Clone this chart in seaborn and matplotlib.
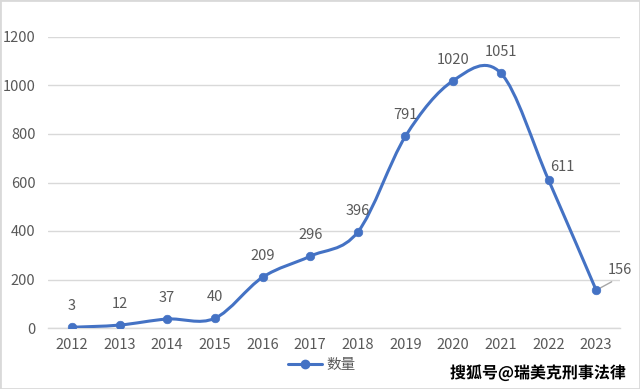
import numpy as np
import pandas as pd
import seaborn as sns
import matplotlib.pyplot as plt
from matplotlib.path import Path
from matplotlib.patches import PathPatch, Rectangle
from matplotlib.lines import Line2D
import matplotlib.patheffects as pe

# Data
years = ['2012', '2013', '2014', '2015', '2016', '2017',
         '2018', '2019', '2020', '2021', '2022', '2023']
counts = [3, 12, 37, 40, 209, 296, 396, 791, 1020, 1051, 611, 156]
series_name = '数量'
y_ticks = [0, 200, 400, 600, 800, 1000, 1200]

blue = '#4472C4'
grey_text = '#595959'
grid_col = '#D9D9D9'

sns.set_theme(style='white')
plt.rcParams['font.family'] = ['Noto Sans CJK SC', 'DejaVu Sans']

df = pd.DataFrame({'pos': np.arange(len(years)), 'count': counts})

fig = plt.figure(figsize=(6.4, 3.89), dpi=100)
ax = fig.add_axes([48 / 640, 1 - 328 / 389, 572 / 640, 291 / 389])

# Smoothed line like Excel's "smooth line" (cubic Bezier through the points)
pts = df[['pos', 'count']].to_numpy(dtype=float)
verts = [pts[0]]
codes = [Path.MOVETO]
n = len(pts)
for i in range(n - 1):
    p_prev = pts[i - 1] if i > 0 else pts[i]
    p_next2 = pts[i + 2] if i + 2 < n else pts[i + 1]
    c1 = pts[i] + (pts[i + 1] - p_prev) / 6
    c2 = pts[i + 1] - (p_next2 - pts[i]) / 6
    verts += [c1, c2, pts[i + 1]]
    codes += [Path.CURVE4] * 3
ax.add_patch(PathPatch(Path(verts, codes), facecolor='none', edgecolor=blue,
                       lw=2.2, capstyle='round', joinstyle='round', zorder=3))

sns.scatterplot(data=df, x='pos', y='count', color=blue, s=38,
                edgecolor=blue, zorder=4, ax=ax, legend=False)

# Data labels
for i, v in enumerate(counts):
    if i == len(counts) - 1:
        ax.annotate(str(v), xy=(i, v), xytext=(24, 20), textcoords='offset pixels',
                    ha='center', va='center', fontsize=10.5, color=grey_text,
                    arrowprops=dict(arrowstyle='-', color='#A6A6A6', lw=1,
                                    relpos=(0.5, 0), shrinkA=2, shrinkB=2))
    elif i == len(counts) - 2:
        ax.annotate(str(v), xy=(i, v), xytext=(14, 13), textcoords='offset pixels',
                    ha='center', va='center', fontsize=10.5, color=grey_text)
    else:
        ax.annotate(str(v), xy=(i, v), xytext=(0, 21), textcoords='offset pixels',
                    ha='center', va='center', fontsize=10.5, color=grey_text)

ax.set_xlim(-0.5, len(years) - 0.5)
ax.set_ylim(0, 1200)
ax.set_xticks(range(len(years)))
ax.set_xticklabels(years)
ax.set_yticks(y_ticks)
ax.set_xlabel('')
ax.set_ylabel('')
ax.tick_params(axis='both', length=0, labelsize=10.5, labelcolor=grey_text)
ax.tick_params(axis='y', pad=9)
ax.tick_params(axis='x', pad=7)
ax.yaxis.grid(True, color=grid_col, lw=1)
ax.set_axisbelow(True)
for side in ['left', 'right', 'top']:
    ax.spines[side].set_visible(False)
ax.spines['bottom'].set_color(grid_col)
ax.spines['bottom'].set_linewidth(1)

handle = Line2D([], [], color=blue, lw=2.2, marker='o', markersize=6)
fig.legend([handle], [series_name], loc='center', bbox_to_anchor=(322 / 640, 1 - 365 / 389),
           frameon=False, fontsize=10.5, handlelength=2.3, handletextpad=0.3,
           labelcolor=grey_text)

fig.text(626 / 640, 1 - 373 / 389, '搜狐号@瑞美克刑事法律', ha='right', va='center',
         fontsize=11.5, fontweight='bold', color='black',
         path_effects=[pe.withStroke(linewidth=2.5, foreground='white')])

fig.patches.append(Rectangle((0, 0), 1, 1, transform=fig.transFigure, fill=False,
                             edgecolor=grid_col, lw=2))

fig.savefig('out.png', dpi=100)
